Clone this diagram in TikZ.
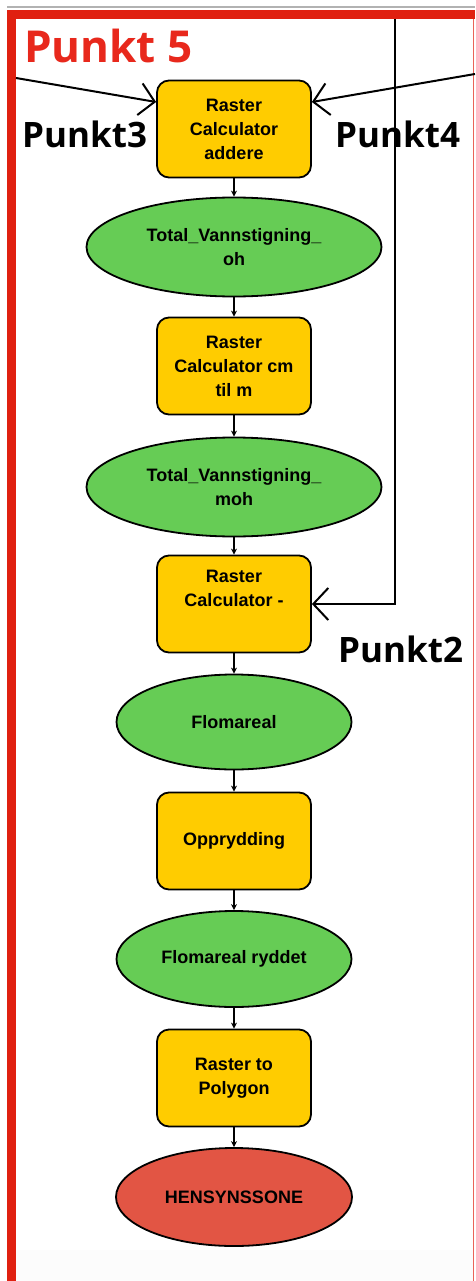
\documentclass[tikz,border=0pt]{standalone}
\usepackage{fontspec}
\setmainfont{Liberation Sans}
\newfontfamily\labelfont{Open Sans}
\usetikzlibrary{arrows.meta,shapes.geometric}
\definecolor{framered}{RGB}{224,32,16}
\definecolor{titlered}{RGB}{232,40,28}
\definecolor{boxyellow}{RGB}{255,204,0}
\definecolor{ellgreen}{RGB}{102,204,85}
\definecolor{ellred}{RGB}{226,85,68}
\tikzset{
  toolbox/.style={draw=black, line width=1.8pt, fill=boxyellow, rounded corners=12pt,
    minimum width=154pt, minimum height=97pt, inner sep=0pt, align=center,
    font=\bfseries\fontsize{18}{24}\selectfont},
  dataell/.style={draw=black, line width=1.8pt, ellipse, inner sep=0pt, align=center,
    font=\bfseries\fontsize{18}{24}\selectfont},
  flow/.style={line width=1.6pt, -{Stealth[length=6pt,width=6pt]}},
  bigarrow/.style={line width=2pt, -{Straight Barb[length=15pt,width=32pt,line width=2pt]}},
  punkt/.style={font=\labelfont\bfseries\fontsize{35}{40}\selectfont, inner sep=0pt, anchor=base west},
}
\begin{document}
\begin{tikzpicture}[x=1pt,y=-1pt]
\useasboundingbox (0,0) rectangle (475,1281);
\fill[white] (0,0) rectangle (475,1281);
\fill[gray!2] (16,1250) rectangle (473,1281);
% frame
\draw[gray!60, line width=1.5pt] (7,7) -- (475,7);
\fill[framered] (7,10) rectangle (475,19);
\fill[framered] (7,10) rectangle (16,1281);
\draw[framered!70, line width=1pt] (473,19) -- (473,1281);
% title
\node[font=\labelfont\bfseries\fontsize{44}{48}\selectfont, text=titlered, inner sep=0pt, anchor=base west] (title) at (24,63) {Punkt 5};
% nodes
\node[toolbox] (b1) at (234,129) {Raster\\Calculator\\addere};
\node[dataell, fill=ellgreen, minimum width=295pt, minimum height=99pt] (e1) at (234,247) {Total\_Vannstigning\_\\oh};
\node[toolbox] (b2) at (234,366) {Raster\\Calculator cm\\til m};
\node[dataell, fill=ellgreen, minimum width=295pt, minimum height=99pt] (e2) at (234,487) {Total\_Vannstigning\_\\moh};
\node[toolbox] (b3) at (234,604) {Raster\\Calculator -\\\strut};
\node[dataell, fill=ellgreen, minimum width=235pt, minimum height=95pt] (e3) at (234,722) {Flomareal};
\node[toolbox] (b4) at (234,841) {Opprydding};
\node[dataell, fill=ellgreen, minimum width=235pt, minimum height=96pt] (e4) at (234,959) {Flomareal ryddet};
\node[toolbox] (b5) at (234,1078) {Raster to\\Polygon};
\node[dataell, fill=ellred, minimum width=236pt, minimum height=98pt] (e5) at (234,1197) {HENSYNSSONE};
% flow connectors
\draw[flow] (b1) -- (e1);
\draw[flow] (e1) -- (b2);
\draw[flow] (b2) -- (e2);
\draw[flow] (e2) -- (b3);
\draw[flow] (b3) -- (e3);
\draw[flow] (e3) -- (b4);
\draw[flow] (b4) -- (e4);
\draw[flow] (e4) -- (b5);
\draw[flow] (b5) -- (e5);
% incoming arrows
\coordinate (l3) at (16,78);
\coordinate (r4) at (475,74);
\coordinate (top2) at (395,19);
\draw[bigarrow] (l3) -- ([yshift=27pt]b1.west);
\draw[bigarrow] (r4) -- ([yshift=27pt]b1.east);
\draw[bigarrow] (top2) |- (b3.east);
% labels
\node[punkt] (p3) at (22,148) {Punkt3};
\node[punkt] (p4) at (335,148) {Punkt4};
\node[punkt] (p2) at (338,662) {Punkt2};
\end{tikzpicture}
\end{document}
